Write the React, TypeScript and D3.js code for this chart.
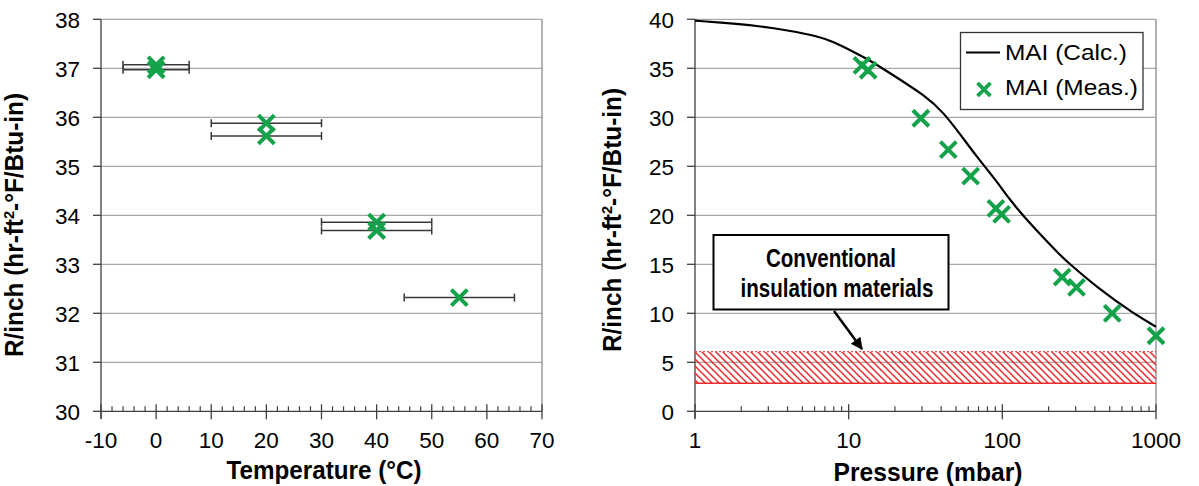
import React from "react";
import * as d3 from "d3";

// left panel: R/inch vs temperature
const tempC = [0, 0, 20, 20, 40, 40, 55];
const tempR = [37.07, 36.97, 35.88, 35.62, 33.86, 33.69, 32.32];
const tempErr = [6, 6, 10, 10, 10, 10, 10];
const tempTicksX = [-10, 0, 10, 20, 30, 40, 50, 60, 70];
const tempTicksY = [30, 31, 32, 33, 34, 35, 36, 37, 38];

// right panel: R/inch vs pressure
const calcP = [1, 1.53, 2.52, 4.15, 6.19, 7.9, 11.3, 13.8, 18.6, 32.2, 41.3, 53, 68, 87.3, 96.4, 112, 144, 237, 262, 431, 711, 1000];
const calcR = [39.86, 39.66, 39.35, 38.84, 38.3, 37.75, 36.5, 35.8, 34.5, 32.1, 30.5, 28.3, 26.0, 23.9, 23.0, 21.6, 19.5, 15.95, 15.3, 12.4, 10.0, 8.63];
const measP = [12.2, 13.4, 29.5, 44.5, 62.2, 90.8, 98.9, 245, 304, 519, 1000];
const measR = [35.3, 34.8, 29.9, 26.7, 24.0, 20.7, 20.1, 13.7, 12.65, 10.0, 7.71];
const pressTicksX = [1, 10, 100, 1000];
const pressTicksY = [0, 5, 10, 15, 20, 25, 30, 35, 40];
const conventionalBand = [2.86, 6.08];
const legendLabels = ["MAI (Calc.)", "MAI (Meas.)"];

const FONT = "'Liberation Sans', Arial, sans-serif";
const GREEN = "#14a24b";
const RED = "#ee2a2a";
const GRID = "#a8a8a8";
const AXIS = "#404040";

const Cross = ({ x, y, r = 8, w = 4 }: { x: number; y: number; r?: number; w?: number }) => (
  <path
    d={`M${x - r},${y - r}L${x + r},${y + r}M${x - r},${y + r}L${x + r},${y - r}`}
    stroke={GREEN}
    strokeWidth={w}
    fill="none"
  />
);

const YTitle = ({ x, y }: { x: number; y: number }) => (
  <text
    transform={`translate(${x},${y}) rotate(-90)`}
    textAnchor="middle"
    fontFamily={FONT}
    fontWeight="bold"
    fontSize={25}
    textLength={264}
    lengthAdjust="spacingAndGlyphs"
  >
    R/inch (hr-ft
    <tspan fontSize={15} dy={-9}>2</tspan>
    <tspan dy={9}>-°F/Btu-in)</tspan>
  </text>
);

const App = () => {
  const top = 19.3;
  const bottom = 411.3;

  // left scales
  const xT = d3.scaleLinear().domain([-10, 70]).range([101, 542]);
  const yT = d3.scaleLinear().domain([30, 38]).range([bottom, top]);

  // right scales
  const xP = d3.scaleLog().domain([1, 1000]).range([695, 1156]);
  const yP = d3.scaleLinear().domain([0, 40]).range([bottom, top]);

  const minorT = d3.range(-8, 70, 2).filter((v) => v % 10 !== 0);
  const minorP: number[] = [];
  [1, 10, 100].forEach((d) => {
    for (let k = 2; k <= 9; k++) minorP.push(d * k);
  });

  const calcLine = d3
    .line<number>()
    .x((p) => xP(p))
    .y((_, i) => yP(calcR[i]))
    .curve(d3.curveBasis);

  const bandTop = yP(conventionalBand[1]);
  const bandBot = yP(conventionalBand[0]);

  return (
    <div style={{ position: "absolute", left: 0, top: 0 }}>
      <svg width={1199} height={486} style={{ display: "block", background: "#fff" }}>
        <defs>
          <pattern id="hatch" width={7} height={7} patternUnits="userSpaceOnUse">
            <path d="M-1,-1L8,8M6,-1L8,1M-1,6L1,8" stroke={RED} strokeWidth={1.5} />
          </pattern>
          <marker
            id="arrow"
            viewBox="0 0 10 10"
            refX={9}
            refY={5}
            markerUnits="userSpaceOnUse"
            markerWidth={13}
            markerHeight={12}
            orient="auto"
          >
            <path d="M0,0L10,5L0,10z" fill="#000" />
          </marker>
        </defs>

        {/* ---------- left panel ---------- */}
        {tempTicksY.map((v) => (
          <g key={`gl${v}`}>
            <line x1={xT(-10)} x2={xT(70)} y1={yT(v)} y2={yT(v)} stroke={v === 30 ? AXIS : GRID} strokeWidth={1.3} />
            <line x1={xT(-10) - 8} x2={xT(-10)} y1={yT(v)} y2={yT(v)} stroke={AXIS} strokeWidth={1.3} />
            <text x={80} y={yT(v)} dy="0.37em" textAnchor="end" fontFamily={FONT} fontSize={22.5}>
              {v}
            </text>
          </g>
        ))}
        <line x1={xT(70)} x2={xT(70)} y1={top} y2={bottom} stroke="#8a8a8a" strokeWidth={1.3} />
        <line x1={xT(-10)} x2={xT(-10)} y1={top} y2={bottom + 7} stroke={AXIS} strokeWidth={1.3} />
        {minorT.map((v) => (
          <line key={`mt${v}`} x1={xT(v)} x2={xT(v)} y1={bottom - 5} y2={bottom} stroke={AXIS} strokeWidth={1.2} />
        ))}
        {tempTicksX.map((v) => (
          <g key={`xt${v}`}>
            <line x1={xT(v)} x2={xT(v)} y1={bottom - 7} y2={bottom + 8} stroke={AXIS} strokeWidth={1.3} />
            <text x={xT(v)} y={448} textAnchor="middle" fontFamily={FONT} fontSize={22.5}>
              {v}
            </text>
          </g>
        ))}
        {tempC.map((t, i) => (
          <g key={`eb${i}`} stroke="#383838" strokeWidth={1.5}>
            <line x1={xT(t - tempErr[i])} x2={xT(t + tempErr[i])} y1={yT(tempR[i])} y2={yT(tempR[i])} />
            <line x1={xT(t - tempErr[i])} x2={xT(t - tempErr[i])} y1={yT(tempR[i]) - 4} y2={yT(tempR[i]) + 4} />
            <line x1={xT(t + tempErr[i])} x2={xT(t + tempErr[i])} y1={yT(tempR[i]) - 4} y2={yT(tempR[i]) + 4} />
          </g>
        ))}
        {tempC.map((t, i) => (
          <Cross key={`tc${i}`} x={xT(t)} y={yT(tempR[i])} />
        ))}
        <YTitle x={23} y={225} />
        <text
          x={324}
          y={479}
          textAnchor="middle"
          fontFamily={FONT}
          fontWeight="bold"
          fontSize={26}
          textLength={195}
          lengthAdjust="spacingAndGlyphs"
        >
          Temperature (°C)
        </text>

        {/* ---------- right panel ---------- */}
        {pressTicksY.map((v) => (
          <g key={`gr${v}`}>
            <line x1={xP(1)} x2={xP(1000)} y1={yP(v)} y2={yP(v)} stroke={v === 0 ? AXIS : GRID} strokeWidth={1.3} />
            <line x1={xP(1) - 8} x2={xP(1)} y1={yP(v)} y2={yP(v)} stroke={AXIS} strokeWidth={1.3} />
            <text x={674} y={yP(v)} dy="0.37em" textAnchor="end" fontFamily={FONT} fontSize={22.5}>
              {v}
            </text>
          </g>
        ))}
        <line x1={xP(1000)} x2={xP(1000)} y1={top} y2={bottom} stroke="#8a8a8a" strokeWidth={1.3} />
        <line x1={xP(1)} x2={xP(1)} y1={top} y2={bottom + 7} stroke={AXIS} strokeWidth={1.3} />
        {minorP.map((v) => (
          <line key={`mp${v}`} x1={xP(v)} x2={xP(v)} y1={bottom - 5} y2={bottom} stroke={AXIS} strokeWidth={1.2} />
        ))}
        {pressTicksX.map((v) => (
          <g key={`xp${v}`}>
            <line x1={xP(v)} x2={xP(v)} y1={bottom - 7} y2={bottom + 8} stroke={AXIS} strokeWidth={1.3} />
            <text x={xP(v)} y={448} textAnchor="middle" fontFamily={FONT} fontSize={22.5}>
              {v}
            </text>
          </g>
        ))}

        {/* conventional insulation band */}
        <rect x={xP(1)} y={bandTop} width={xP(1000) - xP(1)} height={bandBot - bandTop} fill="url(#hatch)" />
        <line x1={xP(1)} x2={xP(1000)} y1={bandTop} y2={bandTop} stroke={RED} strokeWidth={1} strokeDasharray="2,2" />
        <line x1={xP(1)} x2={xP(1000)} y1={bandBot} y2={bandBot} stroke={RED} strokeWidth={1.6} />

        <path d={calcLine(calcP) || ""} fill="none" stroke="#000" strokeWidth={2.2} />
        {measP.map((p, i) => (
          <Cross key={`mc${i}`} x={xP(p)} y={yP(measR[i])} />
        ))}

        {/* annotation */}
        <rect x={713.5} y={235} width={235} height={74.5} fill="#fff" stroke="#000" strokeWidth={2} />
        <text x={831} y={267} textAnchor="middle" fontFamily={FONT} fontWeight="bold" fontSize={25} textLength={130} lengthAdjust="spacingAndGlyphs">
          Conventional
        </text>
        <text x={837} y={297} textAnchor="middle" fontFamily={FONT} fontWeight="bold" fontSize={25} textLength={193} lengthAdjust="spacingAndGlyphs">
          insulation materials
        </text>
        <line x1={834} y1={311} x2={862} y2={349} stroke="#000" strokeWidth={2.5} markerEnd="url(#arrow)" />

        {/* legend */}
        <rect x={960.5} y={32.5} width={182.5} height={77} fill="#fff" stroke="#333" strokeWidth={1.3} />
        <line x1={966} x2={1000} y1={52.5} y2={52.5} stroke="#000" strokeWidth={2.2} />
        <text x={1005} y={60} fontFamily={FONT} fontSize={22.5} textLength={122} lengthAdjust="spacingAndGlyphs">
          {legendLabels[0]}
        </text>
        <Cross x={984} y={89.5} r={6.5} w={3.8} />
        <text x={1005} y={95} fontFamily={FONT} fontSize={22.5} textLength={133} lengthAdjust="spacingAndGlyphs">
          {legendLabels[1]}
        </text>

        <YTitle x={621} y={220} />
        <text
          x={928}
          y={481}
          textAnchor="middle"
          fontFamily={FONT}
          fontWeight="bold"
          fontSize={26}
          textLength={189}
          lengthAdjust="spacingAndGlyphs"
        >
          Pressure (mbar)
        </text>
      </svg>
    </div>
  );
};

export default App;
